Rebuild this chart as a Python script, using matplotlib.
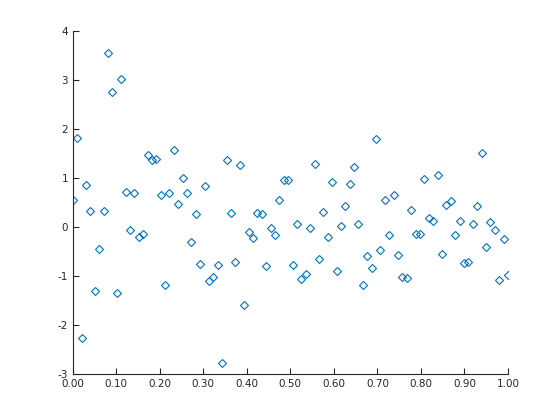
import numpy as np
import matplotlib
matplotlib.use("Agg")
from matplotlib import pyplot as plt

plt.rcParams['axes.unicode_minus'] = False

# 100 samples on [0, 1]
x = np.linspace(0, 1, 100)
y = [0.54, 1.82, -2.27, 0.86, 0.32, -1.31, -0.45, 0.33, 3.55, 2.76,
     -1.34, 3.02, 0.72, -0.07, 0.70, -0.20, -0.14, 1.46, 1.37, 1.39,
     0.66, -1.18, 0.70, 1.58, 0.47, 1.00, 0.70, -0.31, 0.27, -0.76,
     0.84, -1.10, -1.02, -0.77, -2.78, 1.36, 0.29, -0.71, 1.27, -1.59,
     -0.10, -0.22, 0.29, 0.27, -0.79, -0.03, -0.16, 0.56, 0.96, 0.96,
     -0.78, 0.06, -1.06, -0.96, -0.02, 1.29, -0.65, 0.31, -0.20, 0.92,
     -0.91, 0.02, 0.43, 0.88, 1.23, 0.06, -1.19, -0.59, -0.84, 1.80,
     -0.47, 0.55, -0.16, 0.66, -0.57, -1.02, -1.04, 0.35, -0.14, -0.14,
     0.98, 0.19, 0.12, 1.07, -0.55, 0.45, 0.53, -0.16, 0.12, -0.74,
     -0.71, 0.06, 0.43, 1.52, -0.41, 0.10, -0.06, -1.08, -0.24, -0.98]

fig = plt.figure(figsize=(5.6, 4.2), dpi=100)
ax = fig.add_axes([0.13, 0.11, 0.777, 0.816])

ax.plot(x, y, 'D', ls='none', mfc='none', mec='#0072BD', ms=4.0, mew=0.8)

ax.set_xlim(0, 1)
ax.set_ylim(-3, 4)
ax.set_xticks(np.arange(0, 1.01, 0.1))
ax.set_xticklabels(["{:.2f}".format(v) for v in np.arange(0, 1.01, 0.1)])
ax.set_yticks(range(-3, 5))

for s in ['top', 'right']:
	ax.spines[s].set_visible(False)
for s in ['left', 'bottom']:
	ax.spines[s].set_color('#262626')
	ax.spines[s].set_linewidth(0.8)
ax.tick_params(direction='in', length=4, width=0.8, color='#262626',
               labelsize=7.5, labelcolor='#262626')

plt.savefig("out.png", dpi=100)
